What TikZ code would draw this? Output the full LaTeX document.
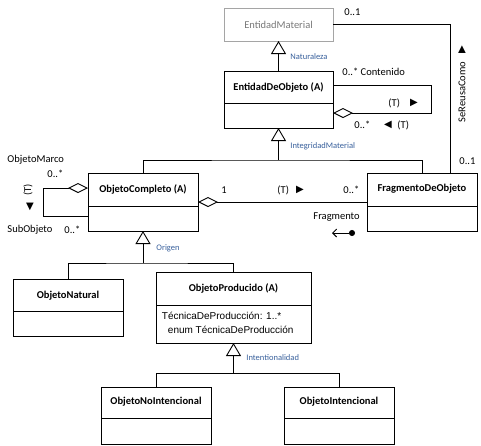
\documentclass[tikz,border=0pt]{standalone}
\usepackage{fontspec}
\setmainfont{Carlito}
\newfontfamily\arialf{Liberation Sans}
\newfontfamily\symf{DejaVu Sans}
\usetikzlibrary{arrows.meta}
\definecolor{lblblue}{RGB}{55,95,155}
\definecolor{boxgray}{RGB}{165,165,165}
\definecolor{txtgray}{RGB}{120,120,120}
\begin{document}
\begin{tikzpicture}[x=1pt,y=-1pt,line width=0.9pt,
  cls/.style={draw,inner sep=0pt,outer sep=0pt},
  ttl/.style={font=\fontsize{10.5}{12}\selectfont\bfseries,inner sep=0pt},
  lbl/.style={font=\fontsize{10.5}{12}\selectfont,inner sep=0pt,anchor=west},
  blbl/.style={font=\fontsize{8.5}{10}\selectfont,text=lblblue,inner sep=0pt,anchor=west},
  sym/.style={font=\symf\fontsize{10}{11}\selectfont,inner sep=0pt},
  gen/.style={-{Triangle[open,length=13pt,width=15pt]}},
  aggr/.style={{Diamond[open,length=20pt,width=10pt]}-},
]
\useasboundingbox (0,0) rectangle (481,445);

% classes
\node[cls,draw=boxgray,minimum width=109pt,minimum height=33pt] (em) at (278.5,24.5) {};
\node[ttl,font=\fontsize{10.5}{12}\selectfont,text=txtgray] (emt) at (278.5,24.5) {EntidadMaterial};

\node[cls,minimum width=109pt,minimum height=57pt] (edo) at (278.5,99.5) {};
\draw (224,103) -- (333,103);
\node[ttl] (edot) at (278.5,87.5) {EntidadDeObjeto (A)};

\node[cls,minimum width=110pt,minimum height=58pt] (oc) at (143,202) {};
\draw (88,206) -- (198,206);
\node[ttl] (oct) at (143,189) {ObjetoCompleto (A)};

\node[cls,minimum width=110pt,minimum height=58pt] (fdo) at (422,202) {};
\draw (367,206) -- (477,206);
\node[ttl] (fdot) at (422,189) {FragmentoDeObjeto};

\node[cls,minimum width=110pt,minimum height=57pt] (on) at (68,307.5) {};
\draw (13,311) -- (123,311);
\node[ttl] (ont) at (68,295.5) {ObjetoNatural};

\node[cls,minimum width=155pt,minimum height=71pt] (op) at (233.5,307.5) {};
\draw (156,305) -- (311,305);
\node[ttl] (opt) at (233.5,288.5) {ObjetoProducido (A)};
\node[lbl,font=\arialf\fontsize{10}{12}\selectfont] (opa1) at (161.5,316) {TécnicaDeProducción: 1..*};
\node[lbl,font=\arialf\fontsize{10}{12}\selectfont] (opa2) at (167.5,330) {enum TécnicaDeProducción};

\node[cls,minimum width=110pt,minimum height=57pt] (oni) at (156,415.5) {};
\draw (101,418) -- (211,418);
\node[ttl] (onit) at (156,402) {ObjetoNoIntencional};

\node[cls,minimum width=110pt,minimum height=57pt] (oi) at (339,415.5) {};
\draw (284,418) -- (394,418);
\node[ttl] (oit) at (339,402) {ObjetoIntencional};

% generalizations
\draw[gen] (edo.north) -- (em.south);
\node[blbl] (nat) at (290,57) {Naturaleza};

\coordinate (j1) at (278.5,160);
\draw (oc.north) |- (j1) -| (fdo.north);
\draw[gen] (j1) -- (edo.south);
\node[blbl] (im) at (290,146) {IntegridadMaterial};

\coordinate (j2) at (143,263);
\draw (on.north) |- (j2) -| (op.north);
\draw[gen] (j2) -- (oc.south);
\node[blbl] (org) at (156,248) {Origen};

\coordinate (j3) at (233.5,373);
\draw (oni.north) |- (j3) -| (oi.north);
\draw[gen] (j3) -- (op.south);
\node[blbl] (int) at (246,358) {Intentionalidad};

% SeReusaComo
\coordinate (sr) at (450,173);
\draw (em.east) -| (sr);
\node[lbl] (sr1) at (344,12) {0..1};
\node[lbl] (sr2) at (459,161) {0..1};
\node[font=\fontsize{10.5}{12}\selectfont,inner sep=0pt,rotate=90] (srl) at (462,92) {SeReusaComo};
\node[sym,rotate=90] (sra) at (462,50) {▶};

% Contenido self aggregation
\draw[aggr] ([yshift=-13.5pt]edo.east) -- ++(98,0) |- ([yshift=14.5pt]edo.east);
\node[lbl] (c1) at (342,72) {0..* Contenido};
\node[lbl] (c2) at (388,103) {(T)};
\node[sym] (c3) at (414,103) {▶};
\node[lbl] (c4) at (354,125) {0..*};
\node[sym] (c5) at (388,125) {◀};
\node[lbl] (c6) at (397,125) {(T)};

% ObjetoMarco self aggregation
\draw[aggr] ([yshift=14pt]oc.west) -- ++(-45,0) |- ([yshift=-14pt]oc.west);
\node[lbl] (m1) at (7,160) {ObjetoMarco};
\node[lbl] (m2) at (47,174) {0..*};
\node[font=\fontsize{10.5}{12}\selectfont,inner sep=0pt,rotate=90] (m3) at (28,190) {(T)};
\node[sym] (m4) at (30,207) {▼};
\node[lbl] (m5) at (7,230) {SubObjeto};
\node[lbl] (m6) at (64,230) {0..*};

% Fragmento aggregation
\draw[aggr] (oc.east) -- (fdo.west);
\node[lbl] (f1) at (221,190) {1};
\node[lbl] (f2) at (277,190) {(T)};
\node[sym] (f3) at (300,190) {▶};
\node[lbl] (f4) at (343,190) {0..*};
\node[lbl] (f5) at (313,217) {Fragmento};
\coordinate (fa) at (355,233);
\coordinate (fb) at (332,233);
\draw[{Straight Barb[length=4pt,width=8pt]}-{Circle[length=6pt]}] (fb) -- (fa);
\end{tikzpicture}
\end{document}
